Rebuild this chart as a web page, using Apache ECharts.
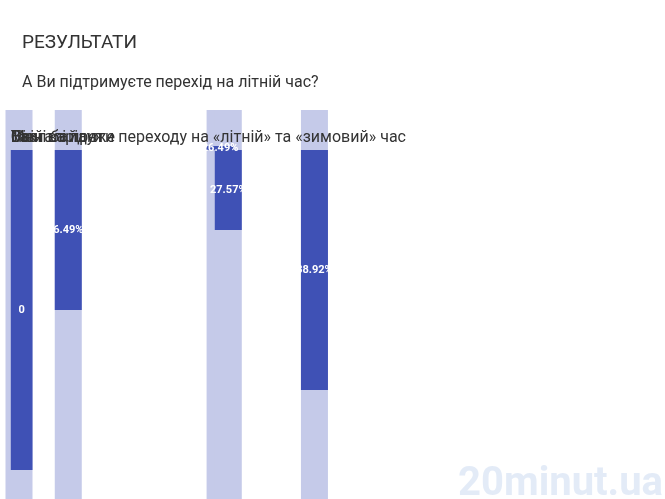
<!DOCTYPE html>
<html lang="uk">
<head>
    <meta charset="UTF-8">
    <script type="text/javascript" src="https://cdn.jsdelivr.net/npm/echarts@6/dist/echarts.min.js"></script>
    <style type="text/css">
        html, body { margin: 0; padding: 0; background: #fff; }
        #chart { width: 665px; height: 499px; }
    </style>
</head>
<body>
<div id="chart"></div>
<script type="text/javascript">
    const answers = ['Так', 'Ні', 'Мені байдуже', 'Взагалі проти переходу на «літній» та «зимовий» час', 'Свій варіант'];
    const percents = [26.49, 27.57, 6.49, 38.92, 0];

    let chart = echarts.init(document.getElementById('chart'));

    // bars are drawn with a value y axis so the row pitch stays fixed
    let barData = percents.map((v, i) => [v, i]);
    let labelData = answers.map((a, i) => ({ value: [0, i], name: a }));

    let option = {
        textStyle: { fontFamily: 'Roboto' },
        title: [{
            text: 'РЕЗУЛЬТАТИ',
            left: 17,
            top: 29,
            textStyle: { fontSize: 19, fontWeight: 'normal', color: '#333' }
        }, {
            text: 'А Ви підтримуєте перехід на літній час?',
            left: 17,
            top: 70,
            textStyle: { fontSize: 16, fontWeight: 'normal', color: '#333' }
        }],
        graphic: [{
            type: 'text',
            right: 2,
            bottom: -6,
            style: {
                text: '20minut.ua',
                font: 'bold 40px Roboto',
                fill: 'rgba(220,230,245,0.8)'
            }
        }],
        grid: { left: 19, top: 110, right: 0, bottom: 0 },
        xAxis: { type: 'value', min: 0, max: 85.1, show: false },
        yAxis: {
            type: 'value',
            inverse: true,
            min: -0.5,
            max: 4.3625,
            show: false
        },
        series: [{
            type: 'bar',
            data: barData,
            barWidth: 27,
            barMinHeight: 4,
            showBackground: true,
            backgroundStyle: { color: '#c5cae9' },
            itemStyle: { color: '#3f51b5' },
            label: {
                show: true,
                position: 'inside',
                color: '#fff',
                fontSize: 11,
                fontWeight: 'bold',
                formatter: p => p.value[0] === 0 ? '0' : p.value[0].toFixed(2) + '%'
            },
            silent: true
        }, {
            type: 'bar',
            data: labelData,
            barWidth: 27,
            barGap: '-100%',
            itemStyle: { color: 'transparent' },
            label: {
                show: true,
                position: [0, -4],
                align: 'left',
                verticalAlign: 'bottom',
                fontSize: 16,
                color: '#333',
                formatter: p => p.name
            },
            silent: true
        }],
        animation: false
    };
    chart.setOption(option);
</script>
</body>
</html>
